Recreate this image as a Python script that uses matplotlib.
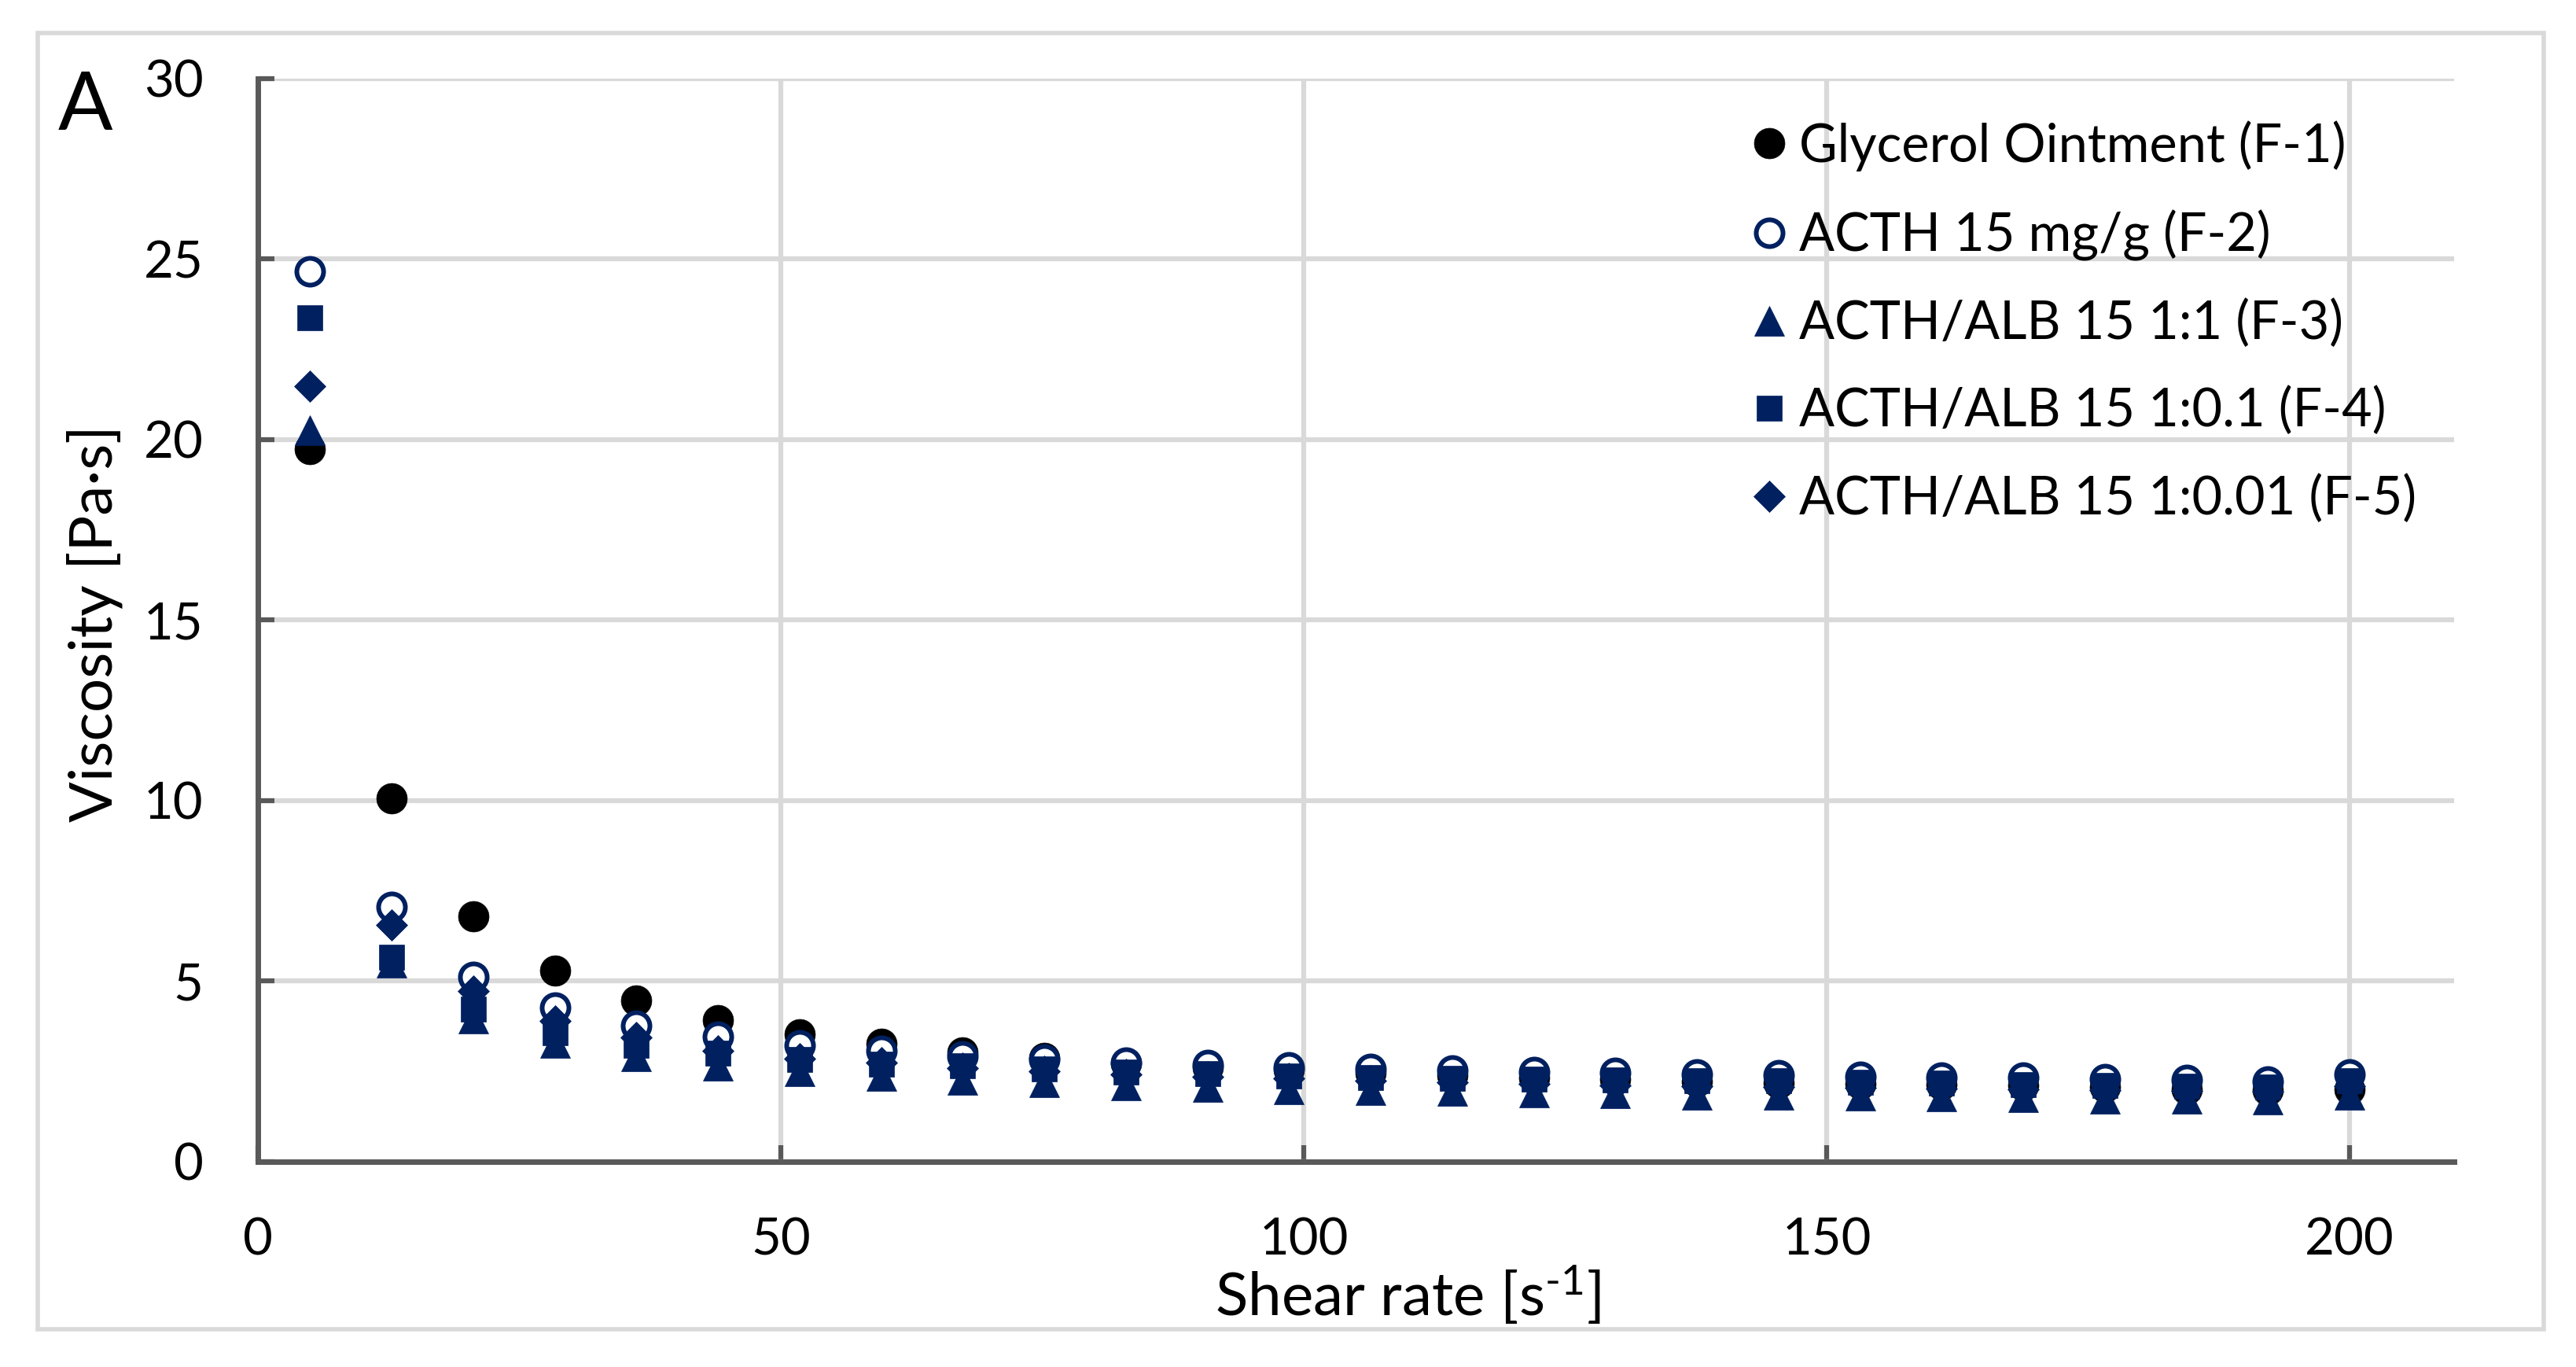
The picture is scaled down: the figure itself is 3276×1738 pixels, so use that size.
import matplotlib
matplotlib.use('Agg')
import matplotlib.pyplot as plt
from matplotlib.patches import Rectangle

plt.rcParams['font.family'] = ['Lato', 'DejaVu Sans']
plt.rcParams['mathtext.fontset'] = 'custom'
plt.rcParams['mathtext.rm'] = 'Lato'
plt.rcParams['mathtext.default'] = 'regular'

# shear rate [1/s]
shear = [5, 12.8, 20.6, 28.4, 36.2, 44, 51.8, 59.6, 67.4, 75.2, 83, 90.8, 98.6,
         106.4, 114.2, 122, 129.8, 137.6, 145.4, 153.2, 161, 168.8, 176.6, 184.4, 192.2, 200]

# viscosity [Pa s]
f1 = [19.73, 10.06, 6.79, 5.30, 4.47, 3.92, 3.53, 3.26, 3.02, 2.87, 2.72, 2.62, 2.54,
      2.46, 2.40, 2.33, 2.28, 2.23, 2.18, 2.15, 2.13, 2.12, 2.06, 2.01, 1.98, 2.0]
f2 = [24.67, 7.06, 5.12, 4.26, 3.76, 3.46, 3.22, 3.06, 2.92, 2.84, 2.75, 2.68, 2.61,
      2.57, 2.53, 2.49, 2.46, 2.42, 2.40, 2.36, 2.34, 2.33, 2.29, 2.26, 2.23, 2.42]
f3 = [20.27, 5.52, 3.97, 3.29, 2.91, 2.66, 2.50, 2.37, 2.26, 2.19, 2.12, 2.06, 2.01,
      1.98, 1.95, 1.92, 1.90, 1.86, 1.84, 1.82, 1.80, 1.78, 1.75, 1.74, 1.71, 1.86]
f4 = [23.38, 5.67, 4.22, 3.58, 3.22, 3.00, 2.84, 2.71, 2.65, 2.58, 2.49, 2.43, 2.38,
      2.34, 2.30, 2.28, 2.26, 2.25, 2.24, 2.20, 2.17, 2.14, 2.11, 2.09, 2.07, 2.24]
f5 = [21.48, 6.56, 4.73, 3.90, 3.45, 3.08, 2.85, 2.75, 2.59, 2.50, 2.42, 2.36, 2.30,
      2.25, 2.20, 2.16, 2.12, 2.09, 2.06, 2.04, 2.02, 2.00, 1.98, 1.96, 1.94, 2.10]

labels = ['Glycerol Ointment (F-1)', 'ACTH 15 mg/g (F-2)', 'ACTH/ALB 15 1:1 (F-3)',
          'ACTH/ALB 15 1:0.1 (F-4)', 'ACTH/ALB 15 1:0.01 (F-5)']

navy = '#002060'
axis_grey = '#595959'
grid_grey = '#d9d9d9'

fig = plt.figure(figsize=(32.76, 17.38), dpi=100)
ax = fig.add_axes([0.1001, 0.1502, 0.8526, 0.7923])

ax.plot(shear, f1, ls='none', marker='o', ms=28, mfc='black', mec='black', mew=0.5, label=labels[0])
ax.plot(shear, f2, ls='none', marker='o', ms=24.5, mfc='white', mec=navy, mew=4.3, label=labels[1])
ax.plot(shear, f3, ls='none', marker='^', ms=28, mfc=navy, mec=navy, mew=0.5, label=labels[2])
ax.plot(shear, f4, ls='none', marker='s', ms=22.5, mfc=navy, mec=navy, mew=0.5, label=labels[3])
ax.plot(shear, f5, ls='none', marker='D', ms=20.4, mfc=navy, mec=navy, mew=0.5, label=labels[4])

ax.set_xlim(0, 210)
ax.set_ylim(0, 30)
ax.set_xticks([0, 50, 100, 150, 200])
ax.set_yticks([0, 5, 10, 15, 20, 25, 30])
ax.set_axisbelow(True)
ax.grid(True, color=grid_grey, lw=4.5)

for side in ['top', 'right']:
    ax.spines[side].set_visible(False)
for side in ['left', 'bottom']:
    ax.spines[side].set_color(axis_grey)
    ax.spines[side].set_linewidth(5)
ax.tick_params(direction='in', length=15, width=4.5, color=axis_grey,
               labelsize=47, labelcolor='black')
ax.tick_params(axis='x', pad=51)
ax.tick_params(axis='y', pad=50)

fig.text(120 / 3276, 1 - 793 / 1738, 'Viscosity [Pa·s]', rotation=90,
         ha='center', va='center', fontsize=55)
fig.text(1790 / 3276, 1 - 1673 / 1738, r'Shear rate [s$^{\text{-}1}$]',
         ha='center', va='baseline', fontsize=55)
fig.text(74 / 3276, 1 - 165 / 1738, 'A', ha='left', va='baseline', fontsize=74)

ax.legend(loc='upper left', bbox_to_anchor=(2223 / 3276, 1 - 153 / 1738),
          bbox_transform=fig.transFigure, frameon=False, fontsize=48,
          handlelength=0.8, handletextpad=0.17, labelspacing=0.73,
          borderpad=0, borderaxespad=0, numpoints=1)

# light grey frame around the whole chart
fig.patches.append(Rectangle((48 / 3276, 1 - 1690 / 1738), (3235 - 48) / 3276,
                             (1690 - 42) / 1738, transform=fig.transFigure,
                             fill=False, edgecolor=grid_grey, lw=4))

fig.savefig('out.png', dpi=100)
